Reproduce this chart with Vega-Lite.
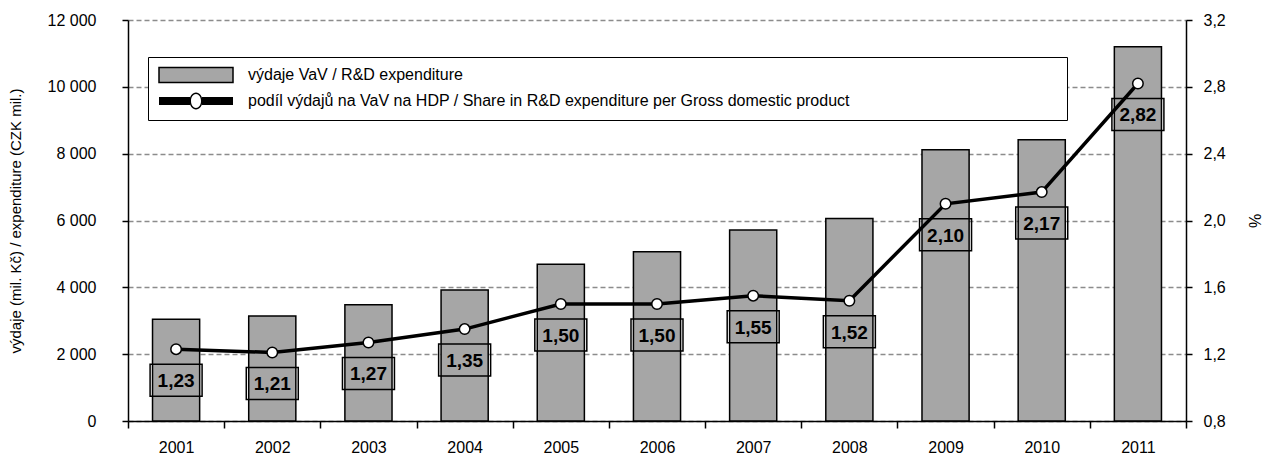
{
  "$schema": "https://vega.github.io/schema/vega-lite/v6.json",
  "width": 1058,
  "height": 401,
  "autosize": {"type": "none"},
  "padding": {"left": 128, "top": 20, "right": 87, "bottom": 45},
  "background": "white",
  "config": {
    "locale": {"number": {"decimal": ",", "thousands": " ", "grouping": [3], "currency": ["", ""]}},
    "font": "Liberation Sans",
    "view": {"stroke": null},
    "axis": {
      "labelColor": "black",
      "titleColor": "black",
      "labelFont": "Liberation Sans",
      "titleFont": "Liberation Sans",
      "labelFontSize": 16,
      "titleFontSize": 16,
      "titleFontWeight": "normal",
      "domainColor": "black",
      "domainWidth": 1.5,
      "tickColor": "black",
      "tickWidth": 1.5
    }
  },
  "data": {
    "values": [
      {"rok": "2001", "vydaje": 3045, "podil": 1.23},
      {"rok": "2002", "vydaje": 3144, "podil": 1.21},
      {"rok": "2003", "vydaje": 3482, "podil": 1.27},
      {"rok": "2004", "vydaje": 3922, "podil": 1.35},
      {"rok": "2005", "vydaje": 4690, "podil": 1.50},
      {"rok": "2006", "vydaje": 5067, "podil": 1.50},
      {"rok": "2007", "vydaje": 5718, "podil": 1.55},
      {"rok": "2008", "vydaje": 6057, "podil": 1.52},
      {"rok": "2009", "vydaje": 8120, "podil": 2.10},
      {"rok": "2010", "vydaje": 8420, "podil": 2.17},
      {"rok": "2011", "vydaje": 11200, "podil": 2.82}
    ]
  },
  "encoding": {
    "x": {
      "field": "rok",
      "type": "ordinal",
      "scale": {"paddingInner": 0, "paddingOuter": 0},
      "axis": {
        "title": null,
        "labelAngle": 0,
        "tickBand": "extent",
        "tickSize": 7,
        "labelPadding": 11
      }
    }
  },
  "layer": [
    {
      "mark": {"type": "bar", "fill": "#a6a6a6", "stroke": "black", "strokeWidth": 1.5, "width": {"band": 0.49}},
      "encoding": {
        "y": {
          "field": "vydaje",
          "type": "quantitative",
          "scale": {"domain": [0, 12000], "nice": false},
          "axis": {
            "title": "výdaje (mil. Kč) / expenditure (CZK mil.)",
            "titleFontSize": 15,
            "values": [0, 2000, 4000, 6000, 8000, 10000, 12000],
            "format": ",.0f",
            "tickSize": 6,
            "labelPadding": 26,
            "titlePadding": 24,
            "grid": true,
            "gridDash": [5, 3],
            "gridColor": "#8c8c8c",
            "gridWidth": 1.3
          }
        }
      }
    },
    {
      "encoding": {
        "y": {
          "field": "podil",
          "type": "quantitative",
          "scale": {"domain": [0.8, 3.2], "nice": false, "zero": false},
          "axis": {
            "orient": "right",
            "title": "%",
            "titleAngle": 270,
            "values": [0.8, 1.2, 1.6, 2.0, 2.4, 2.8, 3.2],
            "format": ".1f",
            "tickSize": 6,
            "labelPadding": 11,
            "titlePadding": 38,
            "grid": false
          }
        }
      },
      "layer": [
        {"mark": {"type": "line", "color": "black", "strokeWidth": 3.5}},
        {"mark": {"type": "point", "filled": true, "fill": "white", "stroke": "black", "strokeWidth": 1.5, "size": 110, "opacity": 1}},
        {"mark": {"type": "point", "shape": "M-1.625,-1H1.625V1H-1.625Z", "size": 1024, "filled": false, "stroke": "black", "strokeWidth": 1.5, "yOffset": 31, "opacity": 1}},
        {
          "mark": {"type": "text", "fontSize": 19, "fontWeight": "bold", "color": "black", "baseline": "middle", "align": "center", "yOffset": 32},
          "encoding": {"text": {"field": "podil", "type": "quantitative", "format": ".2f"}}
        }
      ]
    },
    {
      "data": {"values": [{"s": "výdaje VaV / R&D expenditure"}, {"s": "podíl výdajů na VaV na HDP / Share in R&D expenditure per Gross domestic product"}]},
      "transform": [{"filter": "false"}],
      "mark": {"type": "point", "filled": true, "opacity": 1},
      "encoding": {
        "x": {"value": 0},
        "y": {"value": 0},
        "shape": {
          "field": "s", "type": "nominal",
          "scale": {"domain": ["výdaje VaV / R&D expenditure", "podíl výdajů na VaV na HDP / Share in R&D expenditure per Gross domestic product"],
                    "range": ["M-0.7,-0.75H6.7V0.75H-0.7Z", "M-0.7,-0.4H2.4V0.4H-0.7ZM3.6,-0.4H6.7V0.4H3.6ZM2.35,0A0.65,0.85 0 1 1 3.65,0A0.65,0.85 0 1 1 2.35,0ZM2.5,0A0.5,0.7 0 1 0 3.5,0A0.5,0.7 0 1 0 2.5,0Z"]},
          "legend": {"orient": "none", "legendX": 20, "legendY": 37, "title": " ", "titleOrient": "right", "titlePadding": 210, "padding": 7, "strokeColor": "black", "fillColor": "white", "rowPadding": 3, "labelOffset": 71, "labelFontSize": 16, "labelLimit": 1200, "labelColor": "black", "symbolSize": 400, "symbolStrokeWidth": 1.5, "symbolOpacity": 1}
        },
        "fill": {
          "field": "s", "type": "nominal",
          "scale": {"domain": ["výdaje VaV / R&D expenditure", "podíl výdajů na VaV na HDP / Share in R&D expenditure per Gross domestic product"], "range": ["#a6a6a6", "black"]},
          "legend": {"orient": "none", "legendX": 20, "legendY": 37, "title": " ", "titleOrient": "right", "titlePadding": 210, "padding": 7, "strokeColor": "black", "fillColor": "white", "rowPadding": 3, "labelOffset": 71, "labelFontSize": 16, "labelLimit": 1200, "labelColor": "black", "symbolSize": 400, "symbolStrokeWidth": 1.5, "symbolOpacity": 1}
        },
        "stroke": {
          "field": "s", "type": "nominal",
          "scale": {"domain": ["výdaje VaV / R&D expenditure", "podíl výdajů na VaV na HDP / Share in R&D expenditure per Gross domestic product"], "range": ["black", "transparent"]},
          "legend": {"orient": "none", "legendX": 20, "legendY": 37, "title": " ", "titleOrient": "right", "titlePadding": 210, "padding": 7, "strokeColor": "black", "fillColor": "white", "rowPadding": 3, "labelOffset": 71, "labelFontSize": 16, "labelLimit": 1200, "labelColor": "black", "symbolSize": 400, "symbolStrokeWidth": 1.5, "symbolOpacity": 1}
        }
      }
    }
  ],
  "resolve": {"scale": {"y": "independent"}}
}
